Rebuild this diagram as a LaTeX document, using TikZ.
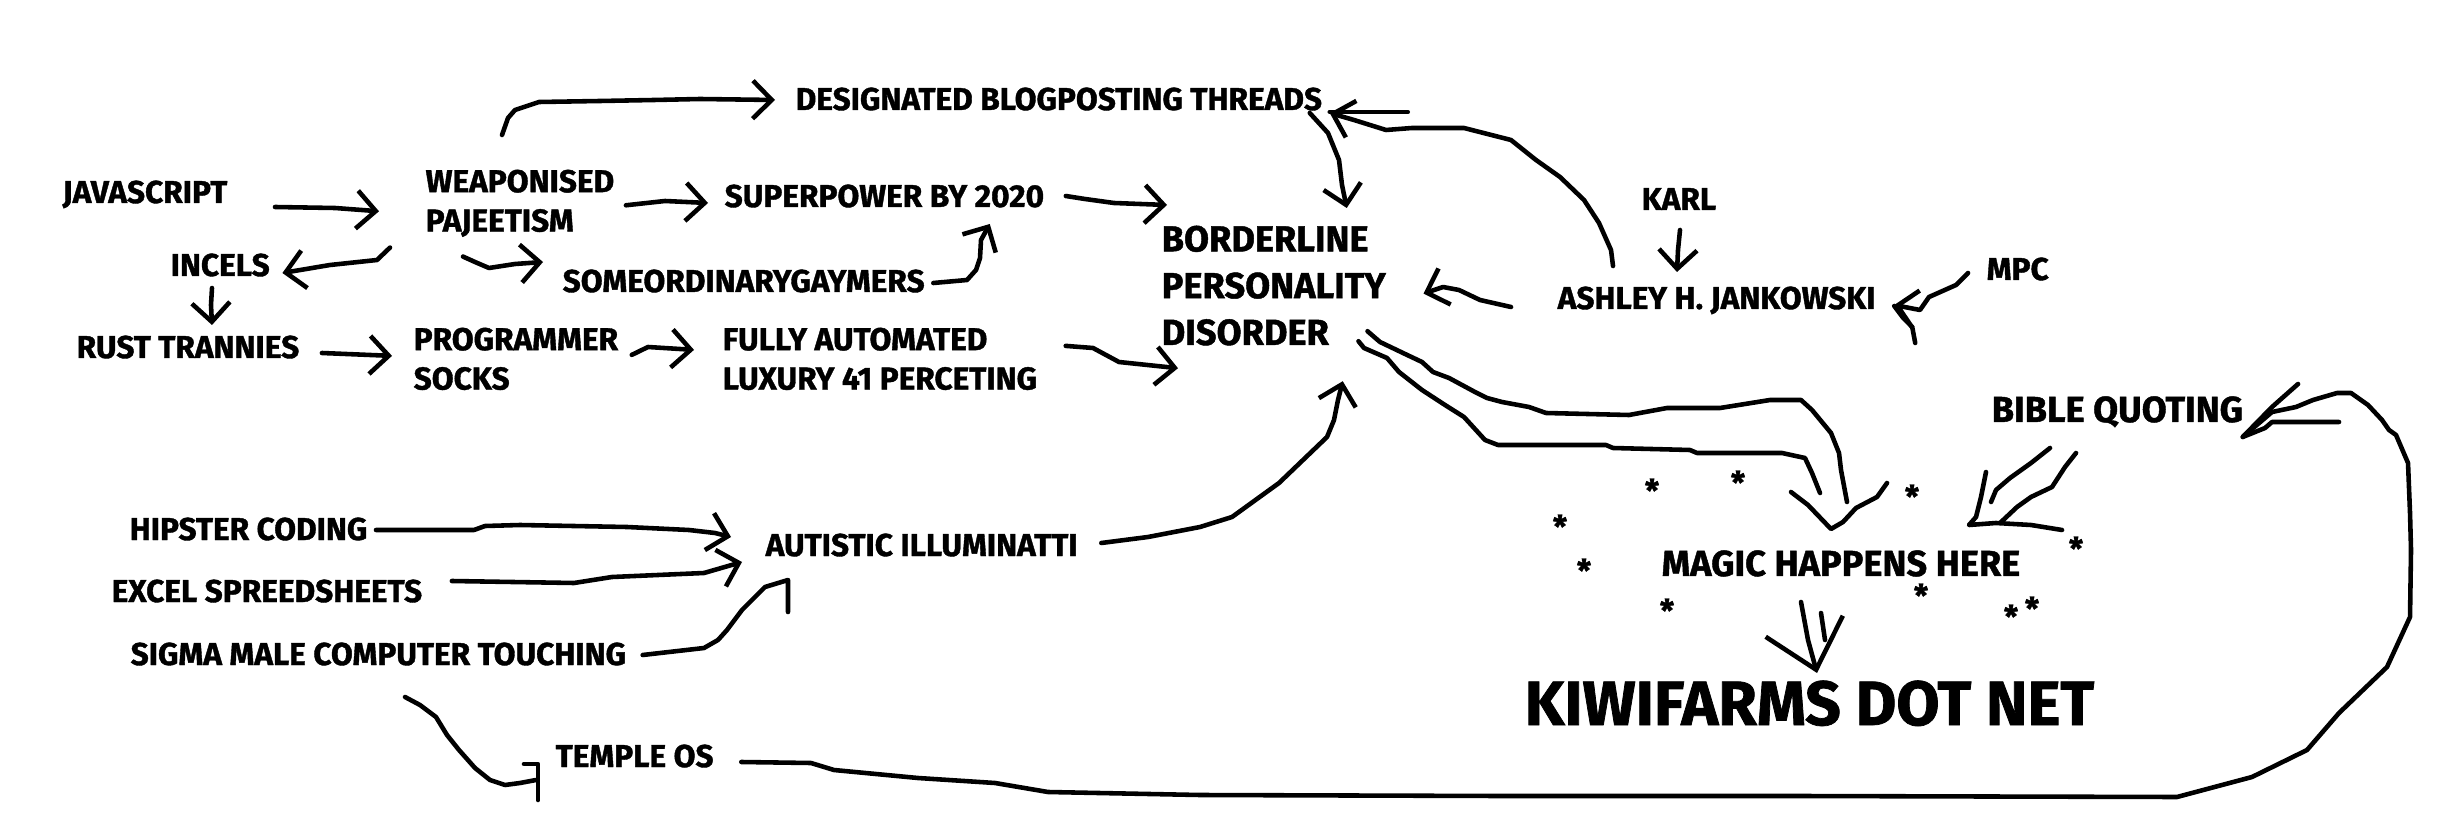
\documentclass[tikz,border=0pt]{standalone}
\usepackage{fontspec}
\setmainfont{Fira Sans}[BoldFeatures={FakeBold=1.2}]
\usepackage{tikz}
\usetikzlibrary{arrows.meta,calc}

\begin{document}
\begin{tikzpicture}[x=0.1mm, y=-0.1mm,
  lbl/.style={font={\bfseries\fontsize{9}{11.2}\selectfont}, anchor=base west, inner sep=0},
  lbltwo/.style={font={\bfseries\fontsize{9}{11.2}\selectfont}, anchor=north west, inner sep=0, align=left},
  bpdlab/.style={font={\bfseries\fontsize{10.3}{13.3}\selectfont}, anchor=north west, inner sep=0, align=left},
  midlab/.style={font={\bfseries\fontsize{10.3}{12}\selectfont}, anchor=base west, inner sep=0},
  kiwilab/.style={font={\bfseries\fontsize{17.8}{20}\selectfont}, anchor=base west, inner sep=0},
  starlbl/.style={font={\bfseries\fontsize{9}{9}\selectfont}, anchor=base, inner sep=0, text height=0.6em},
  pen/.style={line width=1.3pt, line cap=round, line join=round},
  arr/.style={pen, -{Straight Barb[length=1.9mm,width=3.8mm]}},
  bigarr/.style={pen, -{Straight Barb[length=4.5mm,width=8mm]}}
]
\fill[white] (0,0) rectangle (2440,834);
\useasboundingbox (0,0) rectangle (2440,834);

% left side
\node[lbl] (java) at (62,203) {JAVASCRIPT};
\node[lbltwo] (weap) at (425,169) {WEAPONISED\\PAJEETISM};
\node[lbl] (incels) at (170,276) {INCELS};
\node[lbl] (rust) at (76,358) {RUST TRANNIES};
\node[lbltwo] (prog) at (413,327) {PROGRAMMER\\SOCKS};
\node[lbl] (super) at (724,207) {SUPERPOWER BY 2020};
\node[lbl] (someord) at (562,292) {SOMEORDINARYGAYMERS};
\node[lbltwo] (fully) at (722,327) {FULLY AUTOMATED\\LUXURY 41 PERCETING};
\node[lbl] (desig) at (795,110) {DESIGNATED BLOGPOSTING THREADS};

% middle and right
\node[bpdlab] (bpd) at (1161,225) {BORDERLINE\\PERSONALITY\\DISORDER};
\node[lbl] (karl) at (1641,210) {KARL};
\node[lbl] (ashley) at (1557,309) {ASHLEY H. JANKOWSKI};
\node[lbl] (mpc) at (1986,280) {MPC};
\node[midlab] (bible) at (1991,422) {BIBLE QUOTING};
\node[midlab] (magic) at (1661,576) {MAGIC HAPPENS HERE};
\node[kiwilab] (kiwi) at (1524,725) {KIWIFARMS DOT NET};

% bottom left
\node[lbl] (hipster) at (129,540) {HIPSTER CODING};
\node[lbl] (excel) at (111,602) {EXCEL SPREEDSHEETS};
\node[lbl] (sigma) at (130,665) {SIGMA MALE COMPUTER TOUCHING};
\node[lbl] (autistic) at (765,556) {AUTISTIC ILLUMINATTI};
\node[lbl] (temple) at (555,767) {TEMPLE OS};

\foreach \sx/\sy [count=\i] in {1652/487, 1738/479, 1912/493, 1560/523, 1584/567,
    1667/607, 1921/592, 2011/613, 2032/605, 2076/545}
  \node[starlbl] (st\i) at (\sx,\sy+15) {*};

% top cluster
\draw[arr] ($(java.base east)+(47,4)$) -- (335,208) -- ($(weap.west)+(-46,8)$);
\draw[arr] ($(weap.south west)+(-35,10)$) -- (377,260) -- (330,265) -- ($(incels.base east)+(12,-3)$);
\draw[arr] ($(incels.base west)+(42,12)$) -- (211,305) -- ($(rust.base west)+(136,-33)$);
\draw[arr] ($(rust.base east)+(22,-5)$) -- ($(prog.west)+(-21,-3)$);
\draw[arr] ($(weap.east)+(11,2)$) -- (665,201) -- ($(super.base west)+(-16,-4)$);
\draw[arr] ($(weap.south west)+(38,19)$) -- (475,262) -- (489,268) -- (515,264)
  -- ($(someord.base west)+(-19,-30)$);
\draw[arr] ($(weap.north west)+(77,-34)$) -- (508,118) -- (515,110) -- (539,102)
  -- (600,101) -- (654,100) -- (700,99) -- ($(desig.base west)+(-20,-10)$);
\draw[arr] ($(someord.base east)+(8,-9)$) -- (967,280) -- (976,270) -- (980,258)
  -- (981,240) -- ($(super.base east)+(-55,17)$);
\draw[arr] ($(prog.east)+(13,-4)$) -- (648,347) -- ($(fully.west)+(-28,-9)$);

% into the disorder
\draw[arr] ($(super.base east)+(21,-11)$) -- (1085,199) -- (1114,203) -- ($(bpd.north west)+(6,-20)$);
\draw[arr] ($(fully.east)+(28,-13)$) -- (1093,348) -- (1119,362) -- ($(bpd.south west)+(17,22)$);
\draw[arr] ($(desig.base east)+(-13,3)$) -- (1328,133) -- (1339,160) -- (1342,185)
  -- ($(bpd.north)+(73,-17)$);
\draw[arr] ($(ashley.base west)+(56,-43)$) -- (1611,250) -- (1599,223) -- (1584,200)
  -- (1560,177) -- (1536,160) -- (1511,140) -- (1464,128) -- (1412,128) -- (1386,130)
  -- (1354,120) -- ($(desig.base east)+(7,3)$);
\draw[pen] ($(desig.base east)+(7,2)$) -- ++(78,0);
\draw[arr] ($(ashley.base west)+(-46,-2)$) -- (1480,300) -- (1459,290) -- (1443,287)
  -- ($(bpd.east)+(37,8)$);
\draw[arr] ($(karl.base west)+(39,20)$) -- (1678,250) -- ($(ashley.base west)+(120,-37)$);
\draw[arr] ($(mpc.base west)+(-18,-7)$) -- (1956,285) -- (1929,297) -- (1920,310)
  -- ($(ashley.base east)+(18,-4)$);
\draw[pen] ($(ashley.base east)+(18,-3)$) -- ++(9,12) -- ++(9,9) -- ++(3,16);
\draw[arr] ($(autistic.base east)+(23,-13)$) -- (1148,537) -- (1200,527) -- (1232,517)
  -- (1279,483) -- (1327,437) -- (1334,420) -- (1338,400) -- ($(bpd.south)+(69,35)$);

% fat arrow to the magic
\draw[pen] ($(bpd.south east)+(-19,-15)$) -- (1380,342) -- (1403,353) -- (1422,362)
  -- (1433,372) -- (1449,378) -- (1475,392) -- (1487,398) -- (1502,402) -- (1529,407)
  -- (1546,413) -- (1629,415) -- (1667,408) -- (1720,408) -- (1770,400) -- (1801,400)
  -- (1812,410) -- (1831,433) -- (1839,453) -- (1841,470) -- (1847,502);
\draw[pen] ($(bpd.south east)+(-28,-5)$) -- (1364,348) -- (1387,358) -- (1399,372)
  -- (1422,390) -- (1445,405) -- (1464,417) -- (1485,440) -- (1498,445) -- (1606,445)
  -- (1613,448) -- (1690,450) -- (1697,453) -- (1782,453) -- (1805,458) -- (1812,473)
  -- (1820,493);
\draw[pen] (1791,492) -- (1808,505) -- ($(magic.base west)+(170,-47)$) -- (1843,522)
  -- (1856,508) -- (1877,497) -- (1887,483);

% bible quoting
\draw[pen] ($(bible.base west)+(59,26)$) -- (2031,463) -- (2010,478) -- (1996,490) -- (1991,502);
\draw[pen] ($(bible.base west)+(85,31)$) -- (2065,467) -- (2052,487) -- (2031,497)
  -- (2017,507) -- (2000,523);
\draw[pen] (1986,472) -- (1981,497) -- (1976,517) -- ($(magic.base east)+(-52,-51)$)
  -- (1996,523) -- (2031,525) -- (2062,530);

% magic to kiwifarms
\draw[bigarr] ($(magic.base west)+(140,26)$) -- (1808,640) -- ($(kiwi.base west)+(293,-52)$);
\draw[pen] ($(magic.base west)+(160,37)$) -- (1825,640);

% hipster stuff
\draw[arr] ($(hipster.base east)+(8,-10)$) -- (474,530) -- (485,526) -- (520,525)
  -- (627,527) -- (689,530) -- (715,533) -- ($(autistic.base west)+(-34,-19)$);
\draw[arr] ($(excel.base east)+(29,-21)$) -- (574,583) -- (612,577) -- (704,573)
  -- ($(autistic.base west)+(-23,6)$);
\draw[pen] ($(sigma.base east)+(16,-10)$) -- (704,648) -- (718,640) -- (727,630)
  -- (742,610) -- (765,587) -- ($(autistic.base west)+(23,24)$) -- ++(0,32);
\draw[pen] ($(sigma.base west)+(275,32)$) -- (420,705) -- (436,717) -- (447,735)
  -- (459,750) -- (475,768) -- (490,780) -- (505,785) -- (520,783) -- ($(temple.base west)+(-19,13)$);
\draw[pen] ($(temple.base west)+(-31,-3)$) -- ++(14,0) -- ++(0,36);

% the long way round
\draw[pen] ($(temple.base east)+(27,-5)$) -- (811,763) -- (834,770) -- (918,778)
  -- (995,783) -- (1048,792) -- (1200,795) -- (1500,796) -- (1800,796) -- (2177,797)
  -- (2252,777) -- (2307,750) -- (2339,713) -- (2387,667) -- (2410,617) -- (2411,550)
  -- (2410,513) -- (2408,463) -- (2396,435) -- (2389,430) -- (2382,420) -- (2368,405)
  -- (2351,393) -- (2337,393) -- (2313,400) -- (2296,407) -- (2272,412)
  -- ($(bible.base east)+(-1,15)$);
\draw[pen] (2298,384) -- (2272,407) -- ($(bible.base east)+(-1,15)$) -- (2265,428)
  -- (2272,422) -- (2339,422);

\end{tikzpicture}
\end{document}
